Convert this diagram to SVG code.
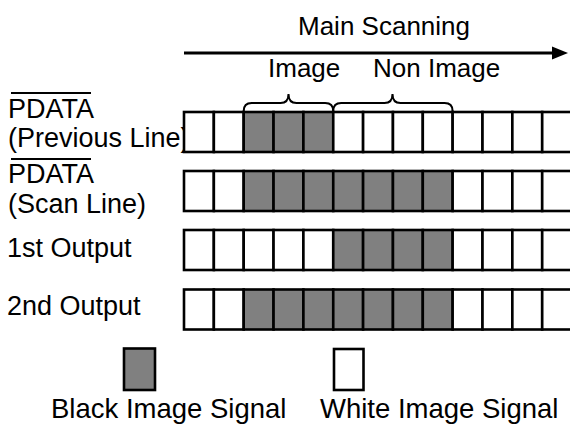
<svg xmlns="http://www.w3.org/2000/svg" width="570" height="425" viewBox="0 0 570 425">
<style>
text{font-family:"Liberation Sans",Arial,sans-serif;fill:#000}
.lbl{font-size:27px}
.top{font-size:26px}
.leg{font-size:27.5px}
.w{fill:#fff;stroke:#000;stroke-width:2.6}
.b{fill:#808080;stroke:#000;stroke-width:2.6}
.ln{stroke:#000;stroke-width:2;fill:none}
</style>
<defs>
<rect id="cw" class="w" width="29.85" height="40"/>
<rect id="cb" class="b" width="29.85" height="40"/>
</defs>
<rect width="570" height="425" fill="#fff"/>
<g id="header">
<text class="top" x="298" y="35">Main Scanning</text>
<text class="top" x="268" y="77">Image</text>
<text class="top" x="373" y="77">Non Image</text>
</g>
<g id="connectors">
<line x1="184" y1="53" x2="553" y2="53" stroke="#000" stroke-width="3"/>
<polygon points="552,46.5 568,53 552,59.5" fill="#000"/>
<path class="ln" d="M243.7,111 Q243.7,103 251.7,103 L280.5,103 Q288.5,103 288.5,94 Q288.5,103 296.5,103 L325.2,103 Q333.2,103 333.2,111"/>
<path class="ln" d="M333.2,111 Q333.2,103 341.2,103 L384.5,103 Q392.5,103 392.5,94 Q392.5,103 400.5,103 L444.6,103 Q452.6,103 452.6,111"/>
</g>
<g id="row-previous">
<line class="ln" x1="11" y1="93" x2="91" y2="93"/>
<text class="lbl" x="8" y="118">PDATA</text>
<text class="lbl" x="8" y="147">(Previous Line)</text>
<use href="#cw" x="184" y="112"/><use href="#cw" x="213.85" y="112"/>
<use href="#cb" x="243.7" y="112"/><use href="#cb" x="273.55" y="112"/><use href="#cb" x="303.4" y="112"/>
<use href="#cw" x="333.25" y="112"/><use href="#cw" x="363.1" y="112"/><use href="#cw" x="392.95" y="112"/><use href="#cw" x="422.8" y="112"/><use href="#cw" x="452.65" y="112"/><use href="#cw" x="482.5" y="112"/><use href="#cw" x="512.35" y="112"/><use href="#cw" x="542.2" y="112"/>
</g>
<g id="row-scan">
<line class="ln" x1="11" y1="159" x2="91" y2="159"/>
<text class="lbl" x="8" y="182.5">PDATA</text>
<text class="lbl" x="8" y="212.5">(Scan Line)</text>
<use href="#cw" x="184" y="171"/><use href="#cw" x="213.85" y="171"/>
<use href="#cb" x="243.7" y="171"/><use href="#cb" x="273.55" y="171"/><use href="#cb" x="303.4" y="171"/><use href="#cb" x="333.25" y="171"/><use href="#cb" x="363.1" y="171"/><use href="#cb" x="392.95" y="171"/><use href="#cb" x="422.8" y="171"/>
<use href="#cw" x="452.65" y="171"/><use href="#cw" x="482.5" y="171"/><use href="#cw" x="512.35" y="171"/><use href="#cw" x="542.2" y="171"/>
</g>
<g id="row-1st">
<text class="lbl" x="7" y="257">1st Output</text>
<use href="#cw" x="184" y="230"/><use href="#cw" x="213.85" y="230"/><use href="#cw" x="243.7" y="230"/><use href="#cw" x="273.55" y="230"/><use href="#cw" x="303.4" y="230"/>
<use href="#cb" x="333.25" y="230"/><use href="#cb" x="363.1" y="230"/><use href="#cb" x="392.95" y="230"/><use href="#cb" x="422.8" y="230"/>
<use href="#cw" x="452.65" y="230"/><use href="#cw" x="482.5" y="230"/><use href="#cw" x="512.35" y="230"/><use href="#cw" x="542.2" y="230"/>
</g>
<g id="row-2nd">
<text class="lbl" x="7" y="315">2nd Output</text>
<use href="#cw" x="184" y="289.5"/><use href="#cw" x="213.85" y="289.5"/>
<use href="#cb" x="243.7" y="289.5"/><use href="#cb" x="273.55" y="289.5"/><use href="#cb" x="303.4" y="289.5"/><use href="#cb" x="333.25" y="289.5"/><use href="#cb" x="363.1" y="289.5"/><use href="#cb" x="392.95" y="289.5"/><use href="#cb" x="422.8" y="289.5"/>
<use href="#cw" x="452.65" y="289.5"/><use href="#cw" x="482.5" y="289.5"/><use href="#cw" x="512.35" y="289.5"/><use href="#cw" x="542.2" y="289.5"/>
</g>
<g id="legend-black">
<rect class="b" x="124" y="348.5" width="31" height="41.5"/>
<text class="leg" x="51" y="418">Black Image Signal</text>
</g>
<g id="legend-white">
<rect class="w" x="334" y="349" width="29.5" height="41"/>
<text class="leg" x="320" y="418">White Image Signal</text>
</g>
</svg>
